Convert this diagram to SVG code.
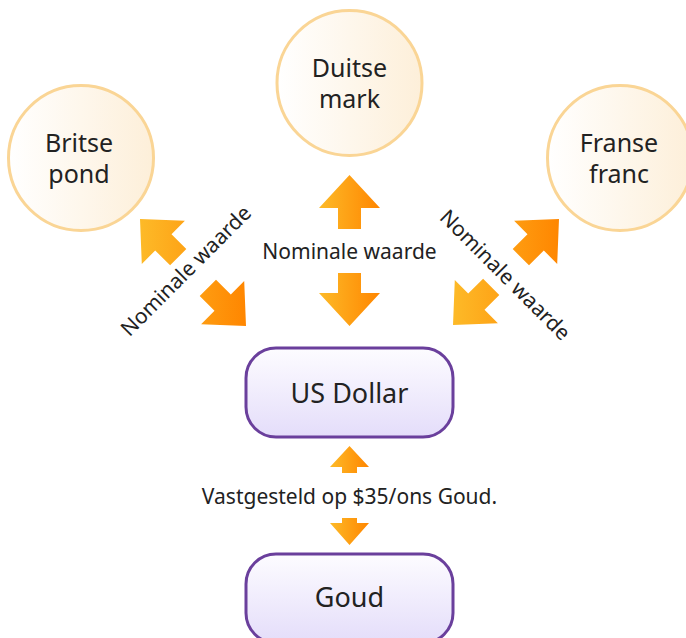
<svg xmlns="http://www.w3.org/2000/svg" width="686" height="638" viewBox="0 0 686 638">
  <style>
    .circ { stroke: #FAD595; stroke-width: 3; fill: url(#circGrad); }
    .box { stroke: #6A3F9C; stroke-width: 3; fill: url(#boxGrad); }
    .lbl { font-family: "Noto Sans", "Open Sans", sans-serif; fill: #222222; text-anchor: middle; }
    .big { font-size: 25px; }
    .box-t { font-size: 27px; }
    .small { font-size: 21px; }
  </style>
  <defs>
    <linearGradient id="circGrad" x1="0" y1="0" x2="1" y2="0">
      <stop offset="0" stop-color="#FFFFFF"/>
      <stop offset="1" stop-color="#FDEFD9"/>
    </linearGradient>
    <linearGradient id="boxGrad" x1="0" y1="0" x2="0" y2="1">
      <stop offset="0" stop-color="#FDFCFF"/>
      <stop offset="1" stop-color="#E4DDFA"/>
    </linearGradient>
    <linearGradient id="arrGrad" x1="0" y1="0" x2="1" y2="0">
      <stop offset="0" stop-color="#FDBA28"/>
      <stop offset="1" stop-color="#FF8600"/>
    </linearGradient>
    <linearGradient id="leftGrad" gradientUnits="userSpaceOnUse" x1="140" y1="0" x2="246" y2="0">
      <stop offset="0" stop-color="#FDBA28"/>
      <stop offset="1" stop-color="#FF8600"/>
    </linearGradient>
    <linearGradient id="rightGrad" gradientUnits="userSpaceOnUse" x1="453" y1="0" x2="559" y2="0">
      <stop offset="0" stop-color="#FDBA28"/>
      <stop offset="1" stop-color="#FF8600"/>
    </linearGradient>
  </defs>

  <g id="connectors">
    <polygon fill="url(#arrGrad)" points="349.5,175 380,208 361,208 361,229 338,229 338,208 319,208"/>
    <polygon fill="url(#arrGrad)" points="349.5,326 380,293 361,293 361,273 338,273 338,293 319,293"/>
    <polygon fill="url(#leftGrad)" points="140,219 184.9,220.8 171.5,234.2 186.3,249.1 170.1,265.3 155.2,250.5 141.8,263.9"/>
    <polygon fill="url(#leftGrad)" points="246,326 201.1,324.2 214.5,310.8 199.7,296 216,279.7 230.8,294.5 244.2,281.1"/>
    <polygon fill="url(#rightGrad)" points="559,219 557.2,263.9 543.8,250.5 529,265.3 512.7,249.1 527.5,234.2 514.1,220.8"/>
    <polygon fill="url(#rightGrad)" points="453,325 454.8,280.1 468.2,293.5 483.1,278.7 499.3,295 484.5,309.8 497.9,323.2"/>
    <polygon fill="url(#arrGrad)" points="349.5,446 369,467 357,467 357,473 342,473 342,467 330,467"/>
    <polygon fill="url(#arrGrad)" points="349.5,545 369,523 357,523 357,518 342,518 342,523 330,523"/>
    <text class="lbl small" x="349.5" y="259">Nominale waarde</text>
    <text class="lbl small" transform="translate(191,276) rotate(-45)" x="0" y="0">Nominale waarde</text>
    <text class="lbl small" transform="translate(500,280) rotate(45)" x="0" y="0">Nominale waarde</text>
    <text class="lbl small" x="349.5" y="504">Vastgesteld op $35/ons Goud.</text>
  </g>

  <g id="node-duitse-mark">
    <circle class="circ" cx="349.5" cy="83" r="72.5"/>
    <text class="lbl big" x="349.5" y="77">Duitse</text>
    <text class="lbl big" x="349.5" y="108">mark</text>
  </g>
  <g id="node-britse-pond">
    <circle class="circ" cx="81" cy="158" r="72.5"/>
    <text class="lbl big" x="79" y="152">Britse</text>
    <text class="lbl big" x="79" y="183">pond</text>
  </g>
  <g id="node-franse-franc">
    <circle class="circ" cx="620" cy="158" r="72.5"/>
    <text class="lbl big" x="619" y="152">Franse</text>
    <text class="lbl big" x="619" y="183">franc</text>
  </g>
  <g id="node-us-dollar">
    <rect class="box" x="246" y="348" width="207" height="89" rx="30" ry="30"/>
    <text class="lbl box-t" x="349.5" y="403">US Dollar</text>
  </g>
  <g id="node-goud">
    <rect class="box" x="246" y="554" width="207" height="89" rx="30" ry="30"/>
    <text class="lbl box-t" x="349.5" y="607">Goud</text>
  </g>
</svg>
